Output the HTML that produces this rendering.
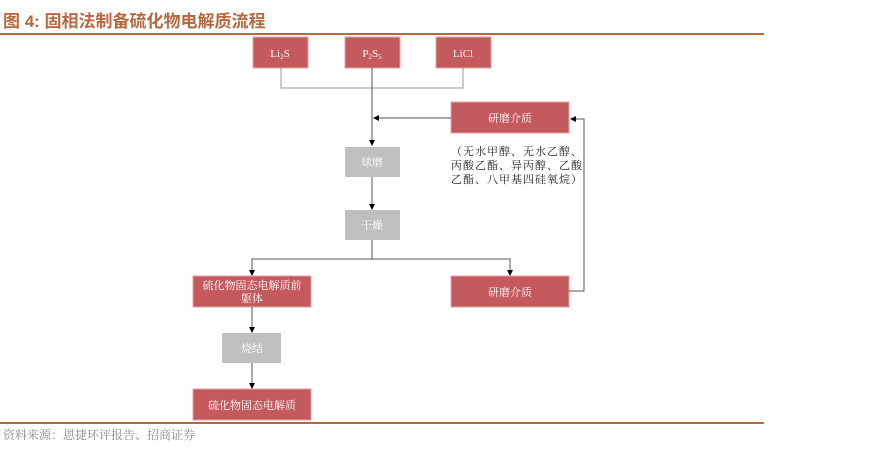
<!DOCTYPE html>
<html><head><meta charset="utf-8"><style>
html,body{margin:0;padding:0;background:#fff;width:879px;height:453px;overflow:hidden}
svg{display:block}
text{font-family:"Liberation Serif","Noto Serif CJK SC",serif}
</style></head><body>
<svg width="879" height="453" viewBox="0 0 879 453" xmlns="http://www.w3.org/2000/svg">
<defs>
<marker id="a" markerWidth="6" markerHeight="6" refX="5" refY="3" orient="auto" markerUnits="userSpaceOnUse"><path d="M0,0 L6,3 L0,6 z" fill="#000"/></marker>
</defs>
<text x="3" y="27" font-size="17" font-weight="bold" fill="#b8683f" style='font-family:"Liberation Sans","Noto Sans CJK SC",sans-serif'>图 4:  固相法制备硫化物电解质流程</text>
<rect x="0" y="33" width="764" height="2" fill="#b8683f"/>
<g fill="#c55a5e" stroke="#e8a0a0" stroke-width="1">
<rect x="253" y="37" width="55" height="31"/>
<rect x="345" y="37" width="55" height="31"/>
<rect x="436" y="37" width="55" height="31"/>
<rect x="451" y="102" width="118" height="31"/>
<rect x="193" y="276" width="118" height="31"/>
<rect x="451" y="276" width="118" height="31"/>
<rect x="193" y="389" width="118" height="31"/>
</g>
<g fill="#bfbfbf">
<rect x="345" y="147" width="55" height="30"/>
<rect x="345" y="210" width="55" height="30"/>
<rect x="222" y="333" width="59" height="30"/>
</g>
<g stroke="#999" stroke-width="1" fill="none">
<polyline points="281,68 281,88 463,88 463,68"/>
</g>
<g stroke="#555" stroke-width="1" fill="none">
<line x1="372" y1="68" x2="372" y2="145" marker-end="url(#a)"/>
<line x1="451" y1="118" x2="374" y2="118" marker-end="url(#a)"/>
<line x1="372" y1="177" x2="372" y2="209" marker-end="url(#a)"/>
<polyline points="372,240 372,259 252,259 252,275" marker-end="url(#a)"/>
<polyline points="372,259 510,259 510,275" marker-end="url(#a)"/>
<polyline points="569,291 584,291 584,119 571,119" marker-end="url(#a)"/>
<line x1="252" y1="307" x2="252" y2="332" marker-end="url(#a)"/>
<line x1="252" y1="363" x2="252" y2="388" marker-end="url(#a)"/>
</g>
<g fill="#fff" font-size="11" text-anchor="middle">
<text x="280" y="57">Li<tspan font-size="7" dy="2">2</tspan><tspan dy="-2">S</tspan></text>
<text x="372" y="57">P<tspan font-size="7" dy="2">2</tspan><tspan dy="-2">S</tspan><tspan font-size="7" dy="2">5</tspan></text>
<text x="463" y="57">LiCl</text>
<text x="510" y="122">研磨介质</text>
<text x="510" y="296">研磨介质</text>
<text x="252" y="289">硫化物固态电解质前</text>
<text x="252" y="302">躯体</text>
<text x="252" y="409">硫化物固态电解质</text>
<text x="372" y="166">球磨</text>
<text x="372" y="229">干燥</text>
<text x="252" y="352">烧结</text>
</g>
<g fill="#222" font-size="11" letter-spacing="1">
<text x="451" y="155">（无水甲醇、无水乙醇、</text>
<text x="451" y="169">丙酸乙酯、异丙醇、乙酸</text>
<text x="451" y="183">乙酯、八甲基四硅氧烷）</text>
</g>
<rect x="0" y="422" width="764" height="2" fill="#b8683f"/>
<text x="3" y="439" font-size="12" fill="#888">资料来源：恩捷环评报告、招商证券</text>
</svg>
</body></html>
